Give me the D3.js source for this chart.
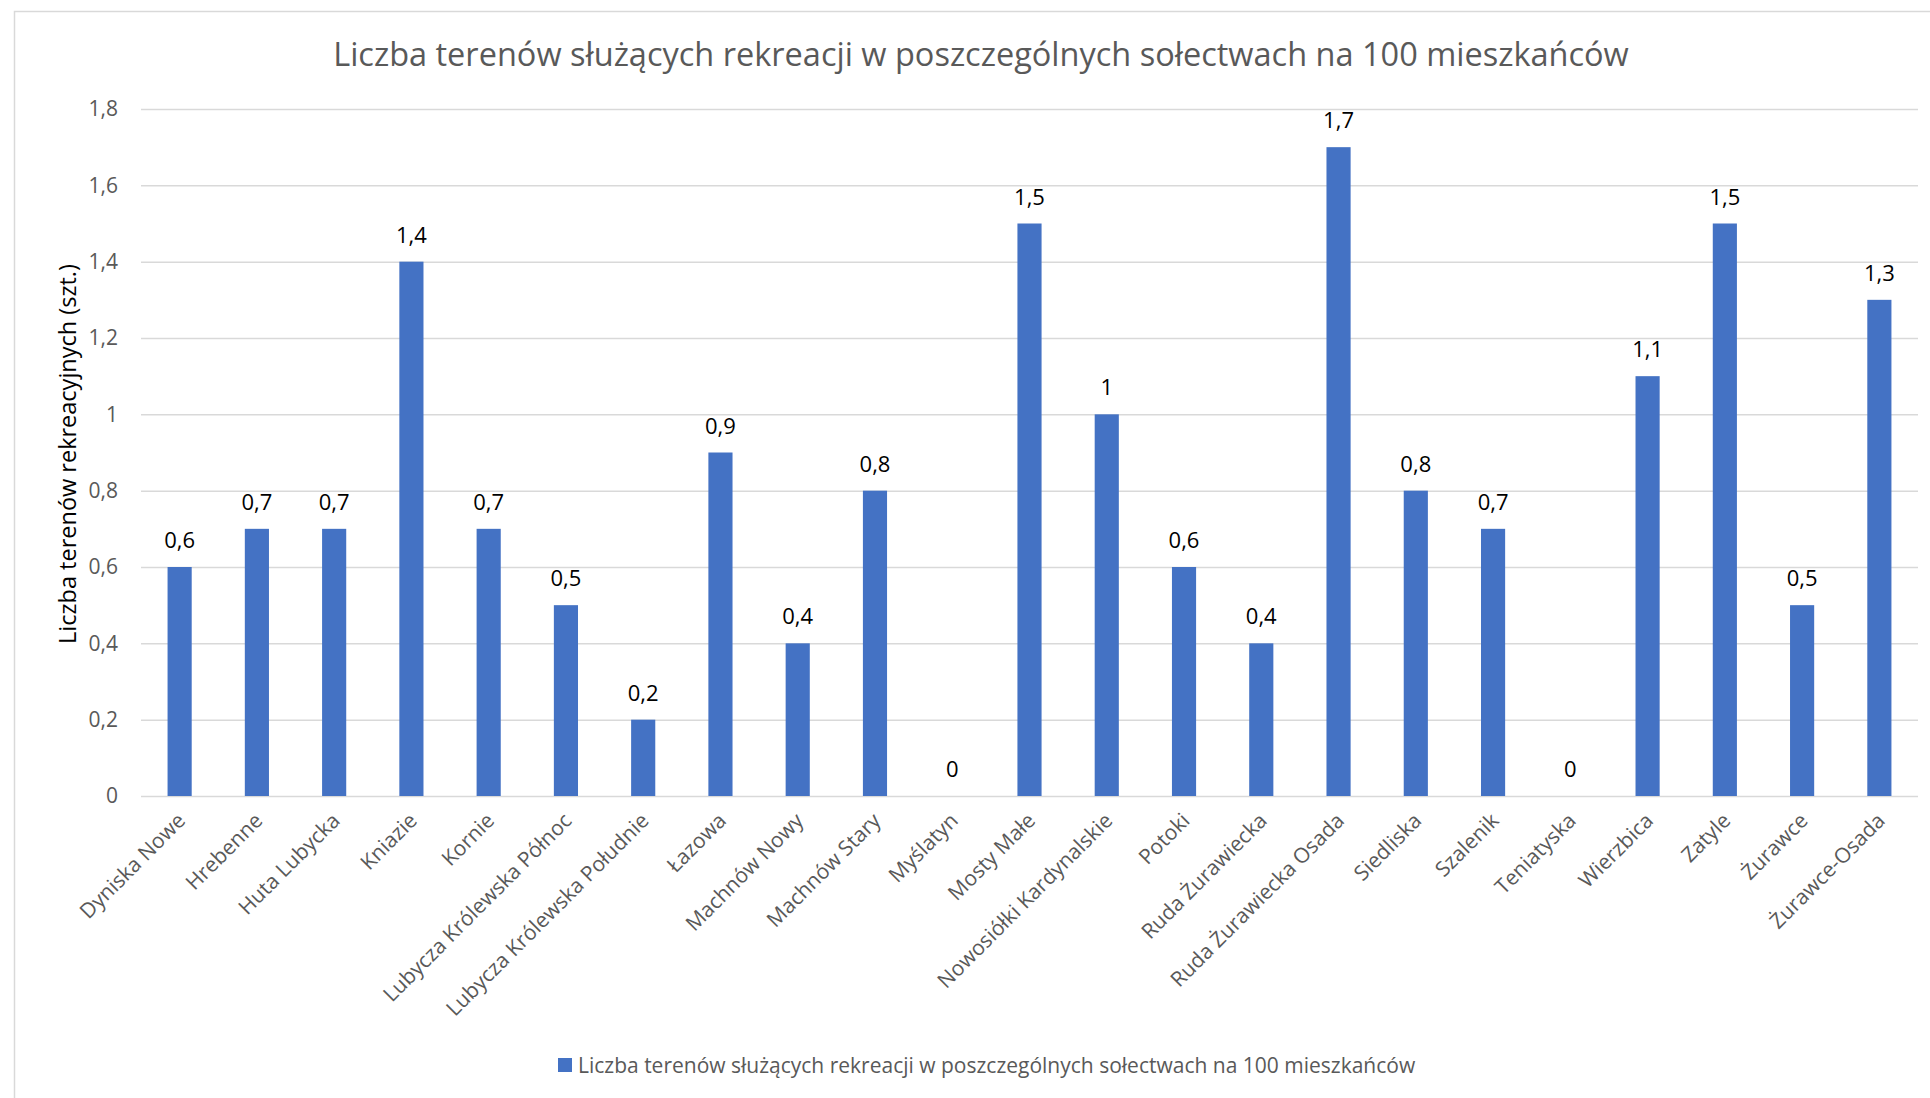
<!DOCTYPE html>
<html>
<head>
<meta charset="utf-8">
<script src="https://cdn.jsdelivr.net/npm/d3@7"></script>
<style>
  html, body { margin: 0; padding: 0; background: #fff; }
  svg { display: block; font-family: "Open Sans", "Noto Sans", sans-serif; }
</style>
</head>
<body>
<svg id="chart" width="1930" height="1098"></svg>
<script>
const chartTitle = "Liczba terenów służących rekreacji w poszczególnych sołectwach na 100 mieszkańców";
const yAxisTitle = "Liczba terenów rekreacyjnych (szt.)";
const seriesName = "Liczba terenów służących rekreacji w poszczególnych sołectwach na 100 mieszkańców";

const categories = [
  "Dyniska Nowe", "Hrebenne", "Huta Lubycka", "Kniazie", "Kornie",
  "Lubycza Królewska Północ", "Lubycza Królewska Południe", "Łazowa",
  "Machnów Nowy", "Machnów Stary", "Myślatyn", "Mosty Małe",
  "Nowosiółki Kardynalskie", "Potoki", "Ruda Żurawiecka",
  "Ruda Żurawiecka Osada", "Siedliska", "Szalenik", "Teniatyska",
  "Wierzbica", "Zatyle", "Żurawce", "Żurawce-Osada"
];
const values = [
  0.6, 0.7, 0.7, 1.4, 0.7, 0.5, 0.2, 0.9, 0.4, 0.8, 0, 1.5,
  1, 0.6, 0.4, 1.7, 0.8, 0.7, 0, 1.1, 1.5, 0.5, 1.3
];
const yTicks = [0, 0.2, 0.4, 0.6, 0.8, 1, 1.2, 1.4, 1.6, 1.8];

const barColor = "#4472C4";
const gridColor = "#d9d9d9";
const textGrey = "#595959";

const svg = d3.select("#chart");
const W = 1930, H = 1098;
const plot = { left: 141, right: 1918, top: 109, bottom: 796 };

const locale = d3.formatLocale({ decimal: ",", thousands: " ", grouping: [3], currency: ["", " zł"] });
const fmt = locale.format(".2~g");

const x = d3.scaleBand()
  .domain(categories)
  .range([plot.left, plot.right])
  .paddingInner(0.6875)
  .paddingOuter(0.34375);

const y = d3.scaleLinear()
  .domain([0, 1.8])
  .range([plot.bottom, plot.top]);

// chart border
svg.append("rect")
  .attr("x", 14.5).attr("y", 11.5)
  .attr("width", W).attr("height", H)
  .attr("fill", "none")
  .attr("stroke", gridColor)
  .attr("stroke-width", 1.5);

// title
svg.append("text")
  .attr("x", 981).attr("y", 66)
  .attr("text-anchor", "middle")
  .attr("fill", textGrey)
  .style("font-size", "32.5px")
  .text(chartTitle);

// y axis with gridlines
const yAxis = svg.append("g")
  .attr("transform", `translate(${plot.left},0)`)
  .call(d3.axisLeft(y)
    .tickValues(yTicks)
    .tickSize(-(plot.right - plot.left))
    .tickPadding(23)
    .tickFormat(fmt));
yAxis.select(".domain").remove();
yAxis.selectAll(".tick line")
  .attr("stroke", gridColor)
  .attr("stroke-width", 1.5);
yAxis.selectAll(".tick text")
  .attr("fill", textGrey)
  .style("font-size", "21px")
  .style("font-family", "'Open Sans', 'Noto Sans', sans-serif");

// y axis title
svg.append("text")
  .attr("transform", `translate(68,454) rotate(-90)`)
  .attr("text-anchor", "middle")
  .attr("dy", "0.35em")
  .attr("fill", "#000")
  .style("font-size", "23.5px")
  .text(yAxisTitle);

// bars
svg.append("g")
  .selectAll("rect")
  .data(values)
  .join("rect")
  .attr("x", (d, i) => x(categories[i]))
  .attr("y", d => y(d))
  .attr("width", x.bandwidth())
  .attr("height", d => y(0) - y(d))
  .attr("fill", barColor);

// data labels
svg.append("g")
  .selectAll("text")
  .data(values)
  .join("text")
  .attr("x", (d, i) => x(categories[i]) + x.bandwidth() / 2)
  .attr("y", d => y(d) - 19)
  .attr("text-anchor", "middle")
  .attr("fill", "#000")
  .style("font-size", "22px")
  .text(d => fmt(d));

// x axis labels
const xAxis = svg.append("g")
  .attr("transform", `translate(0,${plot.bottom})`)
  .call(d3.axisBottom(x).tickSize(0).tickPadding(0));
xAxis.select(".domain").remove();
xAxis.selectAll(".tick text")
  .attr("fill", textGrey)
  .style("font-size", "21px")
  .style("font-family", "'Open Sans', 'Noto Sans', sans-serif")
  .attr("text-anchor", "end")
  .attr("y", 0)
  .attr("dy", "0")
  .attr("transform", "translate(7,26) rotate(-45)");

// legend
const legend = svg.append("g");
legend.append("rect")
  .attr("x", 558).attr("y", 1058)
  .attr("width", 14).attr("height", 14)
  .attr("fill", barColor);
legend.append("text")
  .attr("x", 578).attr("y", 1073)
  .attr("fill", textGrey)
  .style("font-size", "21px")
  .text(seriesName);
</script>
</body>
</html>
